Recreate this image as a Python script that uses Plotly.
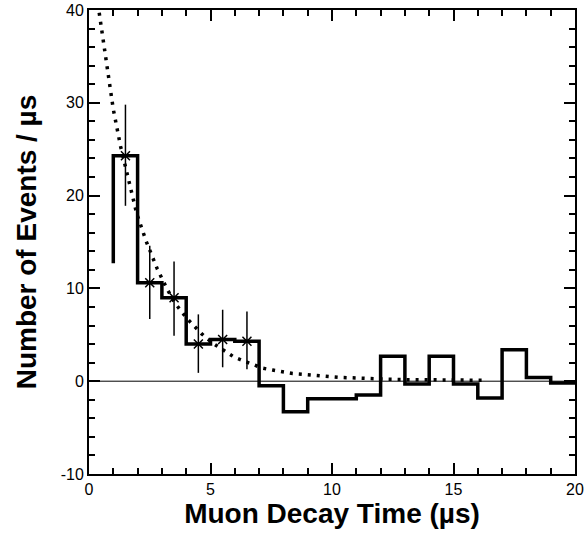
import plotly.graph_objects as go

# Histogram bins (µs) and contents (events / µs)
bin_edges = [1, 2, 3, 4, 5, 6, 7, 8, 9, 10, 11, 12, 13, 14, 15, 16, 17, 18, 19, 20]
bin_values = [24.3, 10.6, 9.0, 4.0, 4.5, 4.3, -0.5, -3.3, -1.9, -1.9, -1.5,
              2.7, -0.3, 2.7, -0.3, -1.8, 3.4, 0.4, -0.2]
hist_start = 12.7  # lower end of the first drawn edge

# Points with error bars
err_x = [1.5, 2.5, 3.5, 4.5, 5.5, 6.5]
err_y = [24.3, 10.6, 9.0, 4.0, 4.5, 4.3]
err_up = [5.5, 4.0, 3.9, 3.2, 3.2, 3.2]
err_dn = [5.4, 3.9, 4.1, 3.1, 3.0, 3.0]

# Dotted fit curve
fit_x = [0.42, 0.7, 1.0, 1.3, 1.66, 1.96, 2.35, 2.81, 3.2, 3.54, 4.05, 4.64,
         5.09, 5.56, 5.97, 6.35, 6.74, 7.15, 7.56, 7.97, 8.38, 8.79, 9.22, 9.64,
         10.0, 10.4, 10.85, 11.3, 11.73, 12.15, 13.0, 14.0, 15.0, 16.37]
fit_y = [39.7, 34.4, 29.3, 25.3, 21.2, 18.1, 15.1, 12.1, 10.0, 8.4, 6.7, 5.1,
         4.1, 3.3, 2.6, 2.2, 1.8, 1.4, 1.2, 1.0, 0.83, 0.75, 0.65, 0.57,
         0.46, 0.40, 0.36, 0.29, 0.27, 0.22, 0.17, 0.13, 0.11, 0.1]

# Tick labels
x_ticks = [0, 5, 10, 15, 20]
x_ticklabels = ["0", "5", "10", "15", "20"]
y_ticks = [-10, 0, 10, 20, 30, 40]
y_ticklabels = ["-10", "0", "10", "20", "30", "40"]

# Build step outline from edges and values
step_x = [bin_edges[0]]
step_y = [hist_start]
for i, v in enumerate(bin_values):
    step_x += [bin_edges[i], bin_edges[i + 1]]
    step_y += [v, v]

FONT = "Liberation Sans, Arial, Helvetica, sans-serif"

fig = go.Figure()

# zero line
fig.add_hline(y=0, line=dict(color="black", width=1))

fig.add_trace(go.Scatter(
    x=fit_x, y=fit_y, mode="lines",
    line=dict(color="black", width=3.5, dash="3px,6px"),
    hoverinfo="skip", showlegend=False))

fig.add_trace(go.Scatter(
    x=step_x, y=step_y, mode="lines",
    line=dict(color="black", width=3.5),
    showlegend=False))

fig.add_trace(go.Scatter(
    x=err_x, y=err_y, mode="markers",
    marker=dict(symbol="x-thin-open", size=9, color="black",
                line=dict(color="black", width=1.5)),
    error_y=dict(type="data", symmetric=False, array=err_up, arrayminus=err_dn,
                 color="black", thickness=1.5, width=0),
    error_x=dict(type="constant", value=0.35, color="black", thickness=1.5, width=0),
    showlegend=False))

axis_common = dict(
    showline=True, linecolor="black", linewidth=2, mirror="allticks",
    ticks="inside", ticklen=11, tickwidth=1.5, tickcolor="black",
    showgrid=False, zeroline=False, automargin=False,
    tickfont=dict(family=FONT, size=16, color="black"),
)

fig.update_xaxes(
    range=[0, 20], tickvals=x_ticks, ticktext=x_ticklabels,
    minor=dict(dtick=1, ticks="inside", ticklen=6, tickwidth=1.5, tickcolor="black"),
    title=dict(text="<b>Muon Decay Time (µs)</b>", standoff=6,
               font=dict(family=FONT, size=28, color="black")),
    **axis_common)
fig.update_yaxes(
    range=[-10, 40], tickvals=y_ticks, ticktext=y_ticklabels,
    minor=dict(dtick=2, ticks="inside", ticklen=6, tickwidth=1.5, tickcolor="black"),
    title=dict(text="<b>Number of Events / µs</b>", standoff=16,
               font=dict(family=FONT, size=28, color="black")),
    **axis_common)

fig.update_layout(
    width=587, height=542,
    margin=dict(l=89, r=12, t=10, b=68),
    paper_bgcolor="white", plot_bgcolor="white",
    font=dict(family=FONT, color="black"),
)

fig.write_html("out.html", config={"displayModeBar": False},
               post_script="document.body.style.margin='0';")
